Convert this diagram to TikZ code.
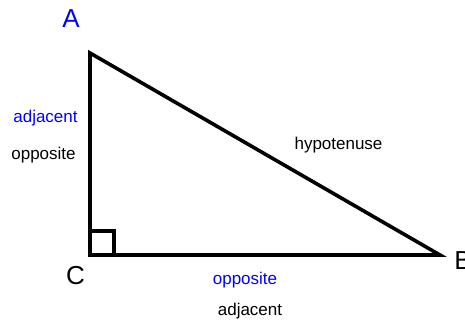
\documentclass[tikz,border=0pt]{standalone}
\usepackage{fontspec}
\setmainfont{Liberation Sans}
\tikzset{
    sommet/.style={font=\fontsize{26}{30}\selectfont, inner sep=0pt},
    cote/.style={font=\fontsize{17}{20}\selectfont, inner sep=0pt},
}
\begin{document}
\begin{tikzpicture}[x=1pt,y=-1pt]
    \useasboundingbox (0,0) rectangle (465,322);
    % Sommets du triangle
    \coordinate (a) at (90,53);
    \coordinate (c) at (90,255);
    \coordinate (b) at (440,255);
    \draw[line width=3.6pt] (a) -- (c) -- (b) -- cycle;
    
    % Angle droit
    \draw[line width=3.6pt] (90,231) -- (114,231) -- (114,255);
    
    % Noms des sommets
    \node[sommet,blue] (la) at (71,19) {A};
    \node[sommet] (lc) at (75.5,276) {C};
    \node[sommet] (lb) at (463,261) {B};
    
    % Noms des cotes
    \node[cote,blue] (adjA) at (45.5,118) {adjacent};
    \node[cote] (oppA) at (43.5,155) {opposite};
    \node[cote] (hyp) at (338.5,145) {hypotenuse};
    \node[cote,blue] (oppC) at (245,280) {opposite};
    \node[cote] (adjC) at (250,311) {adjacent};
\end{tikzpicture}
\end{document}
